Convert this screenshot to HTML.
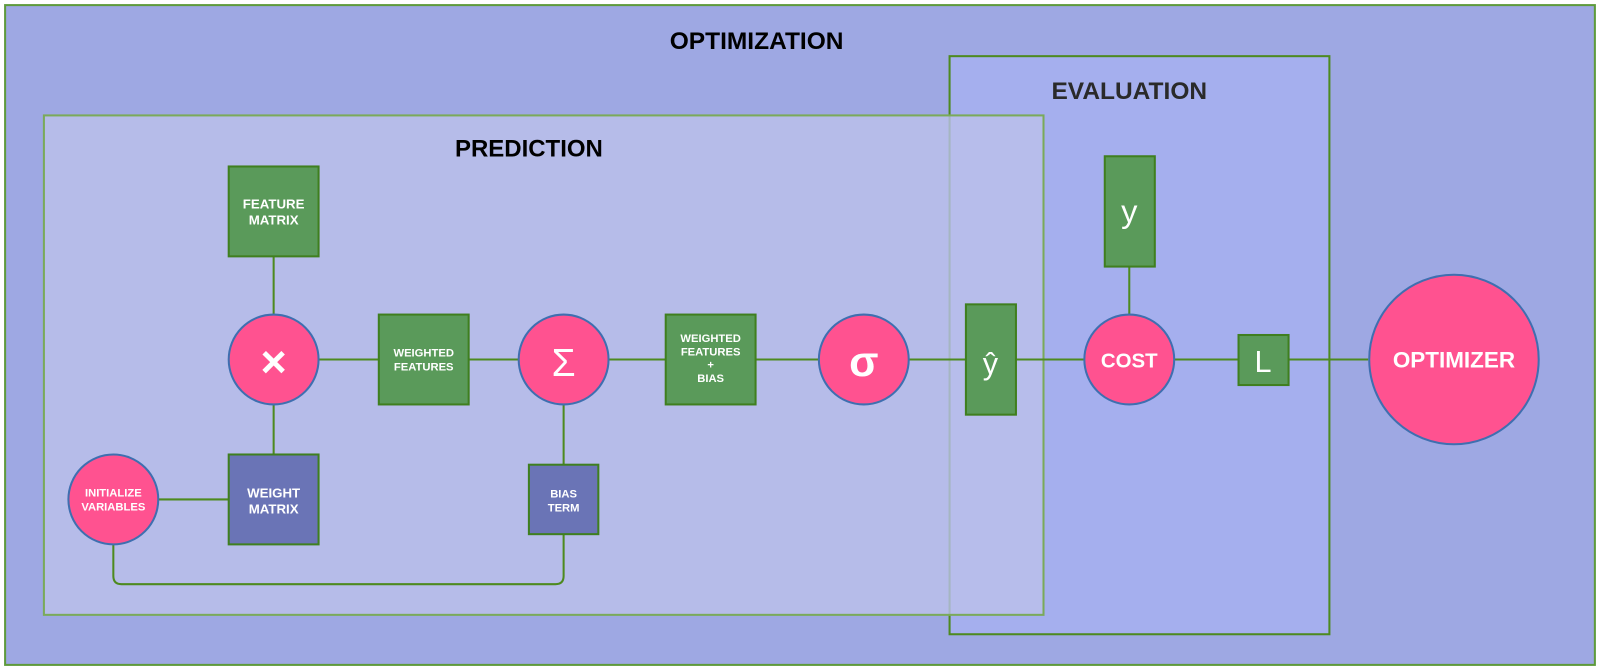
<!DOCTYPE html>
<html><head><meta charset="utf-8"><style>
html,body{margin:0;padding:0;background:#fff;}
svg{display:block;}
text{font-family:"Liberation Sans",sans-serif;font-weight:bold;fill:#fff;text-anchor:middle;}
</style></head><body>
<svg width="1601" height="670" viewBox="0 0 1568 656" preserveAspectRatio="none" xmlns="http://www.w3.org/2000/svg">
<rect x="5" y="5" width="1557" height="646" fill="#9ea8e3" stroke="#5e9a3c" stroke-width="2"/>
<text x="741" y="48" style="fill:#000;font-size:24px">OPTIMIZATION</text>
<rect x="930" y="55" width="372" height="566" fill="#a5afee" stroke="#4d8a1f" stroke-width="2"/>
<text x="1106" y="97" style="fill:#2a2a2a;font-size:24px">EVALUATION</text>
<rect x="43" y="113" width="979" height="489" fill="#bcc1ea" fill-opacity="0.8" stroke="#7aaa5a" stroke-width="2"/>
<text x="518" y="153" style="fill:#000;font-size:23.5px">PREDICTION</text>
<g stroke="#4d8a1f" stroke-width="2" fill="none">
<line x1="268" y1="251" x2="268" y2="445"/>
<line x1="312" y1="352" x2="1340" y2="352"/>
<line x1="155" y1="489" x2="224" y2="489"/>
<line x1="552" y1="396" x2="552" y2="455"/>
<line x1="1106" y1="261" x2="1106" y2="308"/>
<path d="M111 533 V564 Q111 572 119 572 H544 Q552 572 552 564 V523"/>
</g>
<g stroke="#3f7f1f" stroke-width="2" fill="#5a9a5a">
<rect x="224" y="163" width="88" height="88"/>
<rect x="371" y="308" width="88" height="88"/>
<rect x="652" y="308" width="88" height="88"/>
<rect x="946" y="298" width="49" height="108"/>
<rect x="1082" y="153" width="49" height="108"/>
<rect x="1213" y="328" width="49" height="49"/>
</g>
<g stroke="#3f7f1f" stroke-width="2" fill="#6a74b6">
<rect x="224" y="445" width="88" height="88"/>
<rect x="518" y="455" width="68" height="68"/>
</g>
<g stroke="#3f6fb0" stroke-width="2" fill="#ff5290">
<circle cx="268" cy="352" r="44"/>
<circle cx="552" cy="352" r="44"/>
<circle cx="846" cy="352" r="44"/>
<circle cx="1106" cy="352" r="44"/>
<circle cx="111" cy="489" r="44"/>
<circle cx="1424" cy="352" r="83"/>
</g>
<text x="268" y="204" style="font-size:13px">FEATURE</text>
<text x="268" y="220" style="font-size:13px">MATRIX</text>
<text x="268" y="369" style="font-size:44px">×</text>
<text x="415" y="349" style="font-size:11px">WEIGHTED</text>
<text x="415" y="363" style="font-size:11px">FEATURES</text>
<text x="552" y="368" style="font-size:38px;font-weight:normal">Σ</text>
<text x="696" y="335" style="font-size:11px">WEIGHTED</text>
<text x="696" y="348" style="font-size:11px">FEATURES</text>
<text x="696" y="361" style="font-size:11px">+</text>
<text x="696" y="374" style="font-size:11px">BIAS</text>
<text x="846" y="368" style="font-size:42px">σ</text>
<text x="970" y="366" style="font-size:30px;font-weight:normal">ŷ</text>
<text x="1106" y="360" style="font-size:20px">COST</text>
<text x="1106" y="218" style="font-size:32px;font-weight:normal">y</text>
<text x="1237" y="364" style="font-size:30px;font-weight:normal">L</text>
<text x="1424" y="360" style="font-size:22px">OPTIMIZER</text>
<text x="111" y="486" style="font-size:11px">INITIALIZE</text>
<text x="111" y="500" style="font-size:11px">VARIABLES</text>
<text x="268" y="487" style="font-size:13px">WEIGHT</text>
<text x="268" y="503" style="font-size:13px">MATRIX</text>
<text x="552" y="487" style="font-size:11px">BIAS</text>
<text x="552" y="501" style="font-size:11px">TERM</text>
</svg>
</body></html>
